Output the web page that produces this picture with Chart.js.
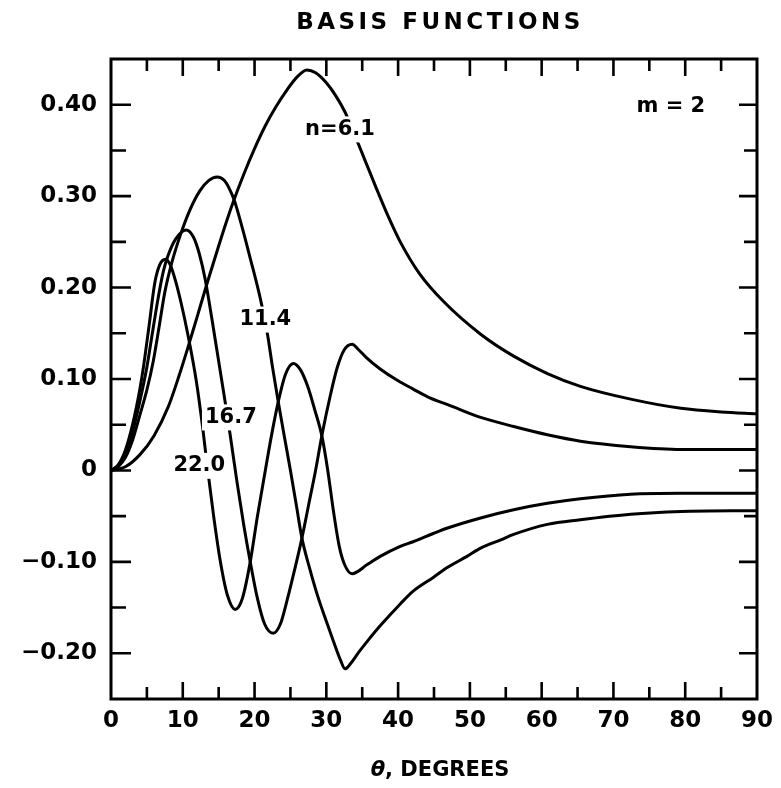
<!DOCTYPE html>
<html lang="en">
<head>
<meta charset="UTF-8">
<title>Basis Functions</title>
<style>
body {margin:0; background:#fff;}
#wrap {width:781px; height:788px;}
</style>
</head>
<body>
<div id="wrap"><canvas id="basisChart" width="781" height="788"></canvas></div>
<script src="https://cdn.jsdelivr.net/npm/chart.js"></script>
<script>
// theta (degrees) and basis function value for each order n, m = 2
const thetaN61 = [0, 2, 4, 6, 8, 9.5, 10.7, 12, 13.4, 14.9, 16, 17, 18.5, 20, 21.5, 23, 24.5, 26, 27.3, 28.5, 30, 31.3, 32.6, 34, 35.5, 37, 38.5, 40.3, 43, 46.3, 51.5, 56.1, 60.8, 65.4, 72.4, 79.4, 85, 90];
const basisN61 = [0, 0.004, 0.017, 0.038, 0.07, 0.104, 0.134, 0.168, 0.205, 0.243, 0.27, 0.293, 0.324, 0.352, 0.377, 0.398, 0.416, 0.431, 0.438, 0.435, 0.424, 0.41, 0.392, 0.366, 0.337, 0.308, 0.28, 0.25, 0.215, 0.185, 0.149, 0.125, 0.106, 0.092, 0.078, 0.068, 0.064, 0.062];

const thetaN114 = [0, 1, 2, 3, 4, 5, 5.9, 6.7, 7.5, 8.5, 9.6, 11, 12.4, 13.6, 14.8, 15.8, 16.5, 17.2, 18.3, 19.4, 20.8, 21.8, 22.5, 23.3, 24.2, 25, 25.8, 26.6, 27.6, 28.7, 30, 31, 32, 32.6, 33.5, 34.5, 35.7, 37.5, 40.3, 42.1, 44.9, 46.9, 49.6, 51.5, 54.3, 56.1, 60.8, 65.4, 72.4, 79.4, 90];
const basisN114 = [0, 0.004, 0.014, 0.033, 0.06, 0.088, 0.12, 0.157, 0.195, 0.228, 0.256, 0.285, 0.306, 0.317, 0.321, 0.317, 0.308, 0.295, 0.265, 0.232, 0.188, 0.149, 0.113, 0.075, 0.035, 0, -0.037, -0.074, -0.105, -0.135, -0.165, -0.187, -0.208, -0.217, -0.21, -0.199, -0.187, -0.17, -0.146, -0.132, -0.117, -0.106, -0.094, -0.085, -0.076, -0.07, -0.059, -0.054, -0.048, -0.045, -0.044];

const thetaN167 = [0, 1, 2, 3, 4, 5, 5.8, 6.6, 7.3, 7.9, 9, 10.5, 11.5, 12.3, 13.1, 14.5, 15.9, 16.6, 17.6, 18.5, 19.4, 20.4, 21.4, 22.6, 23.6, 24.6, 25.6, 26.6, 27.6, 28.5, 29.4, 30.5, 31.5, 32.5, 33.6, 34.5, 35.5, 37.5, 40, 42.1, 44.5, 46.9, 51.5, 56.1, 60.8, 65.4, 72.4, 79.4, 90];
const basisN167 = [0, 0.005, 0.018, 0.042, 0.075, 0.113, 0.152, 0.19, 0.218, 0.234, 0.253, 0.263, 0.255, 0.237, 0.21, 0.144, 0.075, 0.039, -0.015, -0.06, -0.1, -0.14, -0.168, -0.178, -0.168, -0.14, -0.108, -0.074, -0.035, 0, 0.039, 0.08, 0.112, 0.132, 0.138, 0.132, 0.124, 0.111, 0.098, 0.089, 0.079, 0.072, 0.058, 0.048, 0.039, 0.032, 0.026, 0.023, 0.023];

const thetaN220 = [0, 1, 2, 3, 4, 4.5, 5.3, 6.1, 6.8, 7.6, 8.3, 9, 9.8, 10.7, 11.9, 12.8, 13.4, 14.3, 15.2, 16.2, 17.3, 18.3, 19.4, 20.4, 21.5, 22.4, 23.3, 24.3, 25.4, 26.4, 27.4, 28.4, 29.4, 30.2, 31, 31.8, 32.6, 33.6, 35.7, 37.5, 40.3, 42.1, 44.9, 46.9, 51.5, 56.1, 60.8, 65.4, 72.4, 79.4, 90];
const basisN220 = [0, 0.006, 0.022, 0.05, 0.088, 0.112, 0.158, 0.205, 0.225, 0.231, 0.224, 0.207, 0.182, 0.149, 0.097, 0.045, 0.005, -0.05, -0.098, -0.136, -0.152, -0.14, -0.1, -0.05, 0, 0.04, 0.075, 0.105, 0.117, 0.11, 0.092, 0.066, 0.037, 0, -0.045, -0.083, -0.104, -0.113, -0.103, -0.094, -0.083, -0.078, -0.069, -0.063, -0.052, -0.043, -0.036, -0.031, -0.026, -0.025, -0.025];

const xTicks = [0, 10, 20, 30, 40, 50, 60, 70, 80, 90];
const yTicks = [-0.2, -0.1, 0, 0.1, 0.2, 0.3, 0.4];
const yTickLabels = ['\u22120.20', '\u22120.10', '0', '0.10', '0.20', '0.30', '0.40'];

// curve names and where they sit (theta, value)
const curveNames = ['n=6.1', '11.4', '16.7', '22.0'];
const curveNameAt = [[31.9, 0.373], [21.5, 0.165], [16.7, 0.058], [12.3, 0.005]];

const toPoints = (xs, ys) => xs.map((t, i) => ({x: t, y: ys[i]}));
const curve = (xs, ys) => ({
  data: toPoints(xs, ys), showLine: true, borderColor: '#000', borderWidth: 3,
  pointRadius: 0, cubicInterpolationMode: 'monotone', fill: false
});

Chart.defaults.font.family = "'DejaVu Sans', Arial, sans-serif";
Chart.defaults.color = '#000';

// frame with inward ticks, curve names, m = 2, titles
const plotDecor = {
  id: 'plotDecor',
  afterDatasetsDraw(chart) {
    const {ctx, chartArea: a, scales: {x, y}} = chart;
    ctx.save();
    ctx.strokeStyle = '#000';
    ctx.lineWidth = 3;
    ctx.strokeRect(a.left, a.top, a.right - a.left, a.bottom - a.top);
    ctx.lineWidth = 2.6;
    ctx.beginPath();
    for (let t = 5; t < 90; t += 5) {
      const px = x.getPixelForValue(t);
      const len = t % 10 === 0 ? 17 : 12;
      ctx.moveTo(px, a.bottom); ctx.lineTo(px, a.bottom - len);
      ctx.moveTo(px, a.top); ctx.lineTo(px, a.top + len);
    }
    for (let k = -4; k <= 8; k++) {
      const py = y.getPixelForValue(k * 0.05);
      const major = k % 2 === 0;
      ctx.moveTo(a.left, py); ctx.lineTo(a.left + (major ? 20 : 15), py);
      ctx.moveTo(a.right, py); ctx.lineTo(a.right - (major ? 18 : 13), py);
    }
    ctx.stroke();

    ctx.font = "bold 21px 'DejaVu Sans'";
    ctx.textAlign = 'center';
    ctx.textBaseline = 'middle';
    curveNames.forEach((s, i) => {
      const px = x.getPixelForValue(curveNameAt[i][0]);
      const py = y.getPixelForValue(curveNameAt[i][1]);
      const w = ctx.measureText(s).width;
      ctx.fillStyle = '#fff';
      ctx.fillRect(px - w / 2 - 3, py - 13, w + 6, 26);
      ctx.fillStyle = '#000';
      ctx.fillText(s, px, py);
    });
    ctx.fillText('m = 2', x.getPixelForValue(78), y.getPixelForValue(0.398));
    ctx.restore();
  },
  afterDraw(chart) {
    const {ctx, chartArea: a} = chart;
    const cx = (a.left + a.right) / 2 + 6;
    ctx.save();
    ctx.fillStyle = '#000';
    ctx.textBaseline = 'middle';
    ctx.textAlign = 'center';
    ctx.letterSpacing = '3.5px';
    ctx.font = "bold 23px 'DejaVu Sans'";
    ctx.fillText('BASIS FUNCTIONS', cx, 23);
    ctx.letterSpacing = '0px';
    // axis title: italic theta followed by the unit
    ctx.textAlign = 'left';
    const th = 'θ', rest = ', DEGREES';
    ctx.font = "italic bold 21px 'DejaVu Sans'";
    const w1 = ctx.measureText(th).width;
    ctx.font = "bold 21px 'DejaVu Sans'";
    const w2 = ctx.measureText(rest).width;
    const x0 = cx - (w1 + w2) / 2;
    ctx.font = "italic bold 21px 'DejaVu Sans'";
    ctx.fillText(th, x0, 771);
    ctx.font = "bold 21px 'DejaVu Sans'";
    ctx.fillText(rest, x0 + w1, 771);
    ctx.restore();
  }
};

new Chart(document.getElementById('basisChart'), {
  type: 'scatter',
  data: {
    datasets: [
      curve(thetaN61, basisN61),
      curve(thetaN114, basisN114),
      curve(thetaN167, basisN167),
      curve(thetaN220, basisN220)
    ]
  },
  options: {
    responsive: false,
    animation: false,
    layout: {padding: {top: 59, right: 24, bottom: 0, left: 0}},
    plugins: {legend: {display: false}, tooltip: {enabled: false}},
    scales: {
      x: {
        type: 'linear', min: 0, max: 90,
        afterBuildTicks: s => { s.ticks = xTicks.map(v => ({value: v})); },
        afterFit: s => { s.height = 89; },
        grid: {display: false, drawTicks: false},
        border: {display: false},
        ticks: {padding: 8, font: {size: 23, weight: 'bold'}, color: '#000'}
      },
      y: {
        type: 'linear', min: -0.25, max: 0.45,
        afterBuildTicks: s => { s.ticks = yTicks.map(v => ({value: v})); },
        afterFit: s => { s.width = 111; },
        grid: {display: false, drawTicks: false},
        border: {display: false},
        ticks: {padding: 14, font: {size: 23, weight: 'bold'}, color: '#000',
          callback: (v, i) => yTickLabels[i]}
      }
    }
  },
  plugins: [plotDecor]
});
</script>
</body>
</html>
